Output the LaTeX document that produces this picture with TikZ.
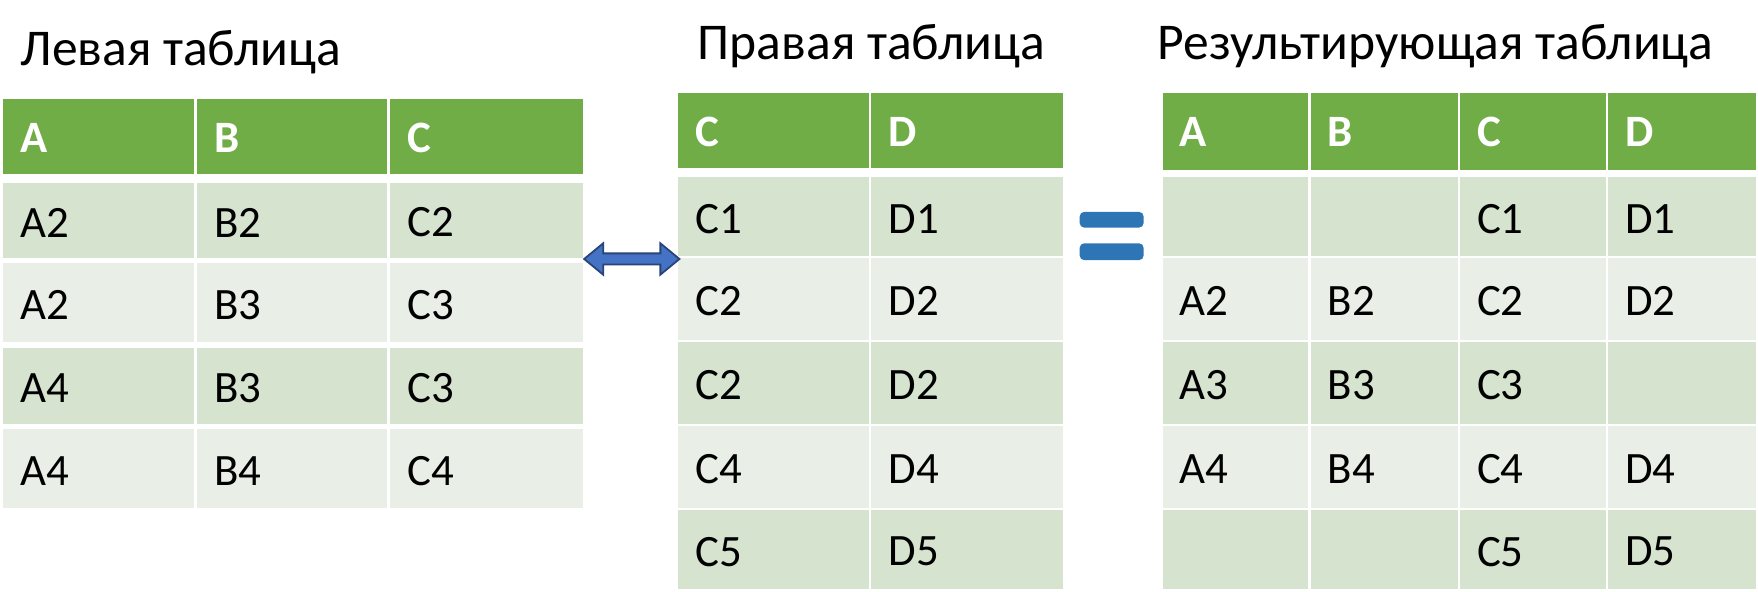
\documentclass[tikz,border=0pt]{standalone}
\usepackage{fontspec}
\setmainfont{Carlito}
\usetikzlibrary{calc}
\definecolor{hdr}{HTML}{70AD47}
\definecolor{odd}{HTML}{D5E3CF}
\definecolor{even}{HTML}{E9EFE7}
\definecolor{arr}{HTML}{4472C4}
\definecolor{eq}{HTML}{2E75B6}
\begin{document}
\begin{tikzpicture}[x=0.5pt,y=-0.5pt,
  txt/.style={anchor=west,inner sep=0pt,font=\fontsize{20}{24}\selectfont},
  hd/.style={txt,text=white,font=\fontsize{20}{24}\selectfont\bfseries},
  title/.style={anchor=base west,inner sep=0pt,font=\fontsize{23}{28}\selectfont}]
\useasboundingbox (0,0) rectangle (1568,528);
% titles
\node[title] (tl) at (18,58) {Левая таблица};
\node[title] (tm) at (622,53) {Правая таблица};
\node[title] (tr) at (1032,53) {Результирующая таблица};
% left table
\foreach \n/\xa/\xb/\t in {1/3/173/A,2/176/345/B,3/348/520/C}{
  \fill[hdr] (\xa,88) rectangle (\xb,155);
  \node[hd] (Lh\n) at (\xa+15,123) {\t};}
\foreach \r/\ya/\yb/\c/\a/\b/\cc in {1/163/230/odd/A2/B2/C2,2/235/305/even/A2/B3/C3,3/310/378/odd/A4/B3/C3,4/383/453/even/A4/B4/C4}{
  \fill[\c] (3,\ya) rectangle (173,\yb);
  \fill[\c] (176,\ya) rectangle (345,\yb);
  \fill[\c] (348,\ya) rectangle (520,\yb);
  \node[txt] (L\r a) at (18,{(\ya+\yb)/2+2}) {\a};
  \node[txt] (L\r b) at (191,{(\ya+\yb)/2+2}) {\b};
  \node[txt] (L\r c) at (363,{(\ya+\yb)/2+2}) {\cc};}
% middle table
\foreach \n/\xa/\xb/\t in {1/605/775/C,2/777/948/D}{
  \fill[hdr] (\xa,83) rectangle (\xb,150);
  \node[hd] (Mh\n) at (\xa+15,118) {\t};}
\foreach \r/\ya/\yb/\c/\a/\b in {1/158/228/odd/C1/D1,2/230/303/even/C2/D2,3/305/378/odd/C2/D2,4/380/453/even/C4/D4,5/455/525/odd/C5/D5}{
  \fill[\c] (605,\ya) rectangle (775,\yb);
  \fill[\c] (777,\ya) rectangle (948,\yb);
  \node[txt] (M\r a) at (620,{(\ya+\yb)/2+2}) {\a};
  \node[txt] (M\r b) at (792,{(\ya+\yb)/2+2}) {\b};}
% right table
\foreach \n/\xa/\xb/\t in {1/1037/1167/A,2/1169/1300/B,3/1302/1432/C,4/1434/1566/D}{
  \fill[hdr] (\xa,83) rectangle (\xb,152);
  \node[hd] (Rh\n) at (\xa+15,118) {\t};}
\foreach \r/\ya/\yb/\c/\a/\b/\cc/\d in {1/158/228/odd///C1/D1,2/230/303/even/A2/B2/C2/D2,3/305/378/odd/A3/B3/C3/,4/380/453/even/A4/B4/C4/D4,5/455/525/odd///C5/D5}{
  \fill[\c] (1037,\ya) rectangle (1167,\yb);
  \fill[\c] (1169,\ya) rectangle (1300,\yb);
  \fill[\c] (1302,\ya) rectangle (1432,\yb);
  \fill[\c] (1434,\ya) rectangle (1566,\yb);
  \node[txt] (R\r a) at (1052,{(\ya+\yb)/2+2}) {\a};
  \node[txt] (R\r b) at (1184,{(\ya+\yb)/2+2}) {\b};
  \node[txt] (R\r c) at (1317,{(\ya+\yb)/2+2}) {\cc};
  \node[txt] (R\r d) at (1449,{(\ya+\yb)/2+2}) {\d};}
% double arrow
\coordinate (al) at (521,231);
\coordinate (ar) at (606,231);
\fill[arr,draw=arr!60!black,line width=0.8pt]
  (al) -- ++(17,-14) -- ++(0,9) -- ($(ar)+(-17,-5)$) -- ++(0,-9) -- (ar) -- ++(-17,14) -- ++(0,-9) -- ($(al)+(17,5)$) -- ++(0,9) -- cycle;
% equals sign
\fill[eq,rounded corners=2pt] (963,189) rectangle (1020,203);
\fill[eq,rounded corners=2pt] (963,217) rectangle (1020,232);
\end{tikzpicture}
\end{document}
